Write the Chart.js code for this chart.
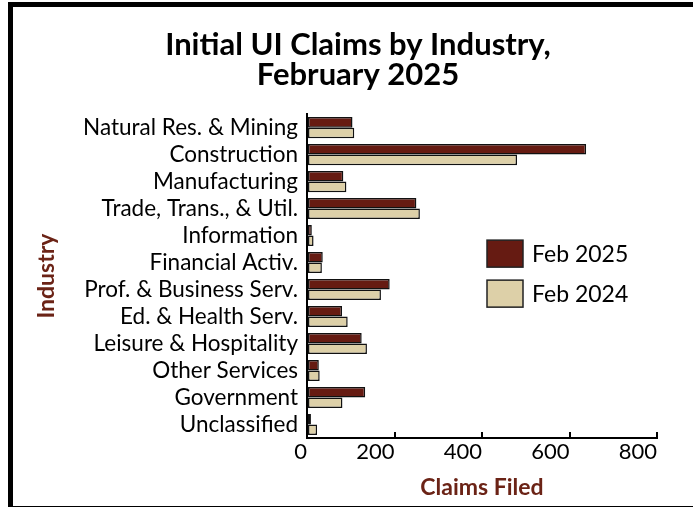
<!DOCTYPE html>
<html>
<head>
<meta charset="utf-8">
<script src="https://cdn.jsdelivr.net/npm/chart.js@4"></script>
<style>
  body { margin: 0; background: #fff; overflow: hidden; }
  #wrap { position: relative; width: 693px; height: 507px; }
  #frame {
    position: absolute; left: 8px; top: 2px; width: 700px; height: 499px;
    border-left: 5px solid #000; border-top: 5px solid #000; border-bottom: 1px solid #000;
    pointer-events: none;
  }
  canvas { position: absolute; left: 0; top: 0; }
</style>
</head>
<body>
<div id="wrap">
  <canvas id="myChart" width="693" height="507"></canvas>
  <div id="frame"></div>
</div>
<script>
// industries, top to bottom
const industries = [
    'Natural Res. & Mining',
    'Construction',
    'Manufacturing',
    'Trade, Trans., & Util.',
    'Information',
    'Financial Activ.',
    'Prof. & Business Serv.',
    'Ed. & Health Serv.',
    'Leisure & Hospitality',
    'Other Services',
    'Government',
    'Unclassified'
];
const feb2025 = [104, 638, 83, 250, 11, 36, 189, 80, 125, 27, 133, 9];
const feb2024 = [108, 480, 90, 258, 15, 34, 169, 93, 137, 29, 81, 23];
const xTicks = [0, 200, 400, 600, 800];

const darkRed = '#661b12';
const tan = '#ddd0a8';
const axisTitleColor = '#6b2316';

Chart.defaults.font.family = 'Lato, "DejaVu Sans", sans-serif';
Chart.defaults.color = '#000';

// legend boxes sit inside the plot, to the right of the short bars
const boxLegend = {
    id: 'boxLegend',
    afterDraw(chart) {
        const ctx = chart.ctx;
        const area = chart.chartArea;
        const x = area.left + 180;
        let y = area.top + 126;
        chart.data.datasets.forEach(ds => {
            ctx.save();
            ctx.fillStyle = ds.backgroundColor;
            ctx.strokeStyle = '#222';
            ctx.lineWidth = 1.5;
            ctx.fillRect(x, y, 36, 27);
            ctx.strokeRect(x, y, 36, 27);
            ctx.fillStyle = '#000';
            ctx.font = '23px Lato, sans-serif';
            ctx.textBaseline = 'middle';
            ctx.fillText(ds.label, x + 45, y + 14);
            ctx.restore();
            y += 40;
        });
    }
};

const ctx = document.getElementById('myChart').getContext('2d');
new Chart(ctx, {
    type: 'bar',
    data: {
        labels: industries,
        datasets: [
            {
                label: 'Feb 2025',
                data: feb2025,
                backgroundColor: darkRed,
                borderColor: '#111',
                borderWidth: 1.5,
                borderSkipped: false
            },
            {
                label: 'Feb 2024',
                data: feb2024,
                backgroundColor: tan,
                borderColor: '#111',
                borderWidth: 1.5,
                borderSkipped: false
            }
        ]
    },
    options: {
        indexAxis: 'y',
        responsive: false,
        animation: false,
        categoryPercentage: 0.78,
        barPercentage: 1.0,
        // left padding shifts the centred title to the right
        layout: { padding: { left: 59, right: 36, top: 0, bottom: 0 } },
        plugins: {
            legend: { display: false },
            tooltip: { enabled: false },
            title: {
                display: true,
                text: ['Initial UI Claims by Industry,', 'February 2025'],
                color: '#000',
                font: { size: 31, weight: 'bold', lineHeight: 0.97 },
                padding: { top: 30, bottom: 24 }
            }
        },
        scales: {
            x: {
                min: 0,
                max: 800,
                afterBuildTicks: scale => {
                    scale.ticks = xTicks.map(v => ({ value: v }));
                },
                afterFit: scale => { scale.height = 69; },
                border: { display: true, color: '#000', width: 2 },
                grid: {
                    drawOnChartArea: false,
                    drawTicks: true,
                    tickLength: -6,
                    color: '#000',
                    lineWidth: 2
                },
                ticks: { font: { size: 22 }, padding: 7, color: '#000', align: 'end' },
                title: {
                    display: true,
                    text: 'Claims Filed',
                    color: axisTitleColor,
                    font: { size: 23, weight: 'bold' },
                    padding: { top: 0, bottom: 6 }
                }
            },
            y: {
                afterFit: scale => { scale.width = 248; },
                border: { display: true, color: '#000', width: 2 },
                grid: { display: false, drawTicks: false },
                ticks: { font: { size: 22.5 }, padding: 9, color: '#000', autoSkip: false },
                title: {
                    display: true,
                    text: 'Industry',
                    color: axisTitleColor,
                    font: { size: 23, weight: 'bold' },
                    padding: { top: -26, bottom: 0 }
                }
            }
        }
    },
    plugins: [boxLegend]
});
</script>
</body>
</html>
